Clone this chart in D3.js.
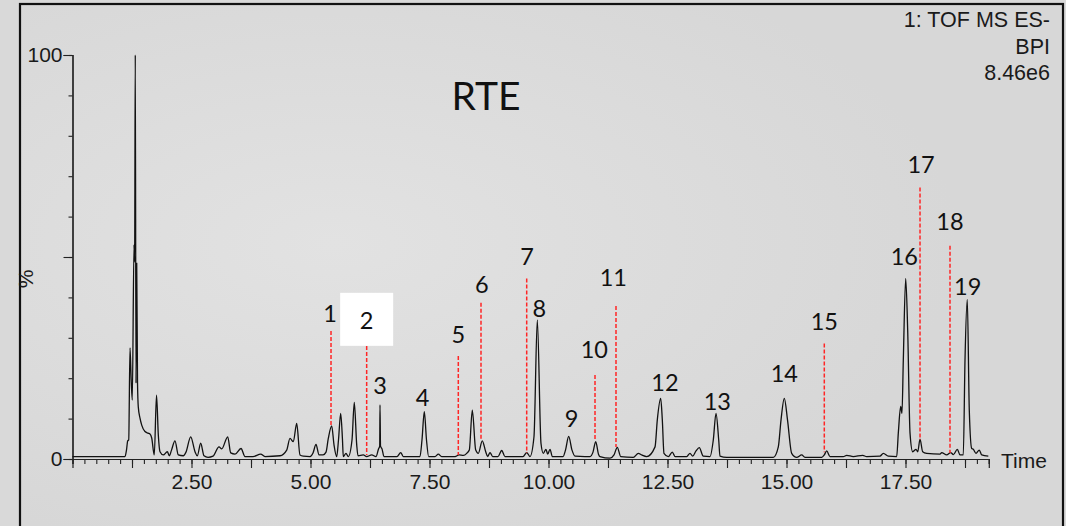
<!DOCTYPE html>
<html>
<head>
<meta charset="utf-8">
<script src="https://cdn.jsdelivr.net/npm/d3@7"></script>
<style>
  body { margin: 0; background: #d9d9d9; }
  svg { display: block; }
</style>
</head>
<body>
<script>
// chromatogram trace, [retention time (min), intensity (%)]
var trace = [
  [0, 0.6], [1.103, 0.6], [1.134, 2.2], [1.160, 4.5], [1.181, 4.7], [1.208, 27.5], [1.233, 19.6], [1.256, 14.6],
  [1.292, 53], [1.305, 48.8], [1.319, 100], [1.334, 18.8], [1.349, 48.5], [1.366, 18.8], [1.382, 12.9],
  [1.418, 10.1], [1.454, 8.4], [1.523, 6.8], [1.586, 6.4], [1.628, 6.2], [1.664, 5.2], [1.718, 1],
  [1.765, 15.8], [1.803, 5.9], [1.838, 1.8], [1.908, 1], [1.992, 1.8], [2.034, 0.8], [2.08, 2.2],
  [2.153, 4.5], [2.223, 1], [2.328, 0.8], [2.384, 1.7], [2.483, 5.5], [2.574, 1.8], [2.622, 0.8],
  [2.693, 3.9], [2.763, 0.8], [2.847, 0.4], [2.952, 0.7], [3.078, 3.0], [3.134, 2.5], [3.261, 5.5],
  [3.324, 1.5], [3.414, 1.2], [3.540, 2.6], [3.624, 0.6], [3.792, 0.6], [3.954, 1.2], [4.044, 0.6],
  [4.359, 0.8], [4.5, 2.2], [4.569, 5.1], [4.639, 4.3], [4.710, 8.8], [4.779, 1], [4.849, 0.7],
  [4.99, 0.6], [5.053, 1.5], [5.116, 3.6], [5.179, 1], [5.263, 1], [5.326, 1.7], [5.374, 5.1],
  [5.445, 8.2], [5.494, 3.5], [5.55, 0.6], [5.588, 4.7], [5.634, 11.3], [5.672, 4.7], [5.689, 0.6],
  [5.746, 1.4], [5.794, 0.6], [5.872, 4.7], [5.920, 14], [5.971, 3.5], [5.998, 0.8], [6.109, 1],
  [6.18, 0.6], [6.286, 1], [6.376, 0.6], [6.429, 2.5], [6.454, 3.2], [6.460, 13.4], [6.471, 3.2],
  [6.502, 2.5], [6.544, 0.6], [6.817, 0.6], [6.895, 1.6], [6.95, 0.6], [7.3, 0.6], [7.342, 4.7],
  [7.391, 11.7], [7.437, 4.7], [7.483, 0.6], [7.616, 0.6], [7.685, 1.2], [7.756, 0.6], [8.036, 0.6],
  [8.120, 1], [8.21, 0.9], [8.282, 1.4], [8.336, 2.2], [8.399, 12.1], [8.471, 2.2], [8.525, 1.4],
  [8.609, 4.5], [8.681, 1.8], [8.723, 0.6], [8.771, 1.6], [8.828, 0.6], [8.939, 0.6], [9.017, 2.1],
  [9.086, 0.6], [9.464, 0.6], [9.542, 1.6], [9.611, 0.6], [9.695, 5.5], [9.765, 34.4], [9.842, 3.9],
  [9.891, 1.4], [9.947, 2.4], [9.983, 1.2], [10.032, 2.4], [10.080, 0.6], [10.305, 0.6], [10.357, 2.2],
  [10.424, 5.6], [10.494, 2.2], [10.557, 0.7], [10.767, 0.6], [10.872, 0.6], [10.935, 1.7], [10.992, 4.3],
  [11.050, 1.2], [11.082, 0.6], [11.292, 0.2], [11.376, 1], [11.445, 2.9], [11.517, 0.6], [11.782, 0.4],
  [11.887, 1.4], [11.958, 1], [12.063, 0.6], [12.238, 3], [12.286, 9.7], [12.357, 15], [12.391, 9.7],
  [12.426, 1.4], [12.517, 0.6], [12.601, 1.7], [12.658, 0.6], [12.903, 0.6], [12.973, 1.4], [13.029, 0.7],
  [13.099, 2], [13.168, 2.8], [13.252, 0.7], [13.393, 0.6], [13.462, 4.7], [13.519, 11.3], [13.576, 4.7],
  [13.603, 0.7], [13.744, 0.4], [14.723, 0.4], [14.828, 3], [14.885, 9.7], [14.954, 15], [15.021, 9.7],
  [15.109, 1.4], [15.214, 0.4], [15.319, 1], [15.389, 0.4], [15.739, 0.4], [15.794, 1], [15.844, 2],
  [15.914, 0.6], [16.193, 0.6], [16.265, 0.9], [16.403, 0.6], [16.601, 0.9], [16.685, 0.6], [16.964, 0.7],
  [17.034, 1.4], [17.139, 0.7], [17.315, 0.6], [17.349, 6.4], [17.399, 13], [17.426, 11.3], [17.454, 24.5],
  [17.504, 44.7], [17.546, 31.9], [17.595, 6.4], [17.651, 1.8], [17.721, 2.4], [17.757, 1.8], [17.805, 4.9],
  [17.861, 1.8], [17.945, 1.4], [18.225, 1.2], [18.260, 1.6], [18.365, 1], [18.449, 1.6], [18.505, 1.1],
  [18.589, 2.4], [18.645, 1], [18.714, 1], [18.75, 24.5], [18.798, 39.5], [18.840, 12.1], [18.891, 2.6],
  [18.924, 2.4], [18.981, 1.4], [19.050, 2.2], [19.101, 1], [19.24, 0.7]
];

// numbered compounds: label position in data units
var peakIds  = [1, 2, 3, 4, 5, 6, 7, 8, 9, 10, 11, 12, 13, 14, 15, 16, 17, 18, 19];
var labelRt  = [5.41, 6.18, 6.46, 7.357, 8.105, 8.597, 9.548, 9.807, 10.487, 10.962, 11.361, 12.447, 13.546, 14.954, 15.794, 17.475, 17.826, 18.435, 18.807];
var labelPct = [35.9, 34.2, 18.1, 15.3, 30.9, 43.3, 50.2, 37.3, 10.1, 27, 45, 18.9, 14.2, 21.2, 34, 50.1, 72.8, 58.7, 42.6];

// red dashed markers
var markerIds  = [1, 2, 5, 6, 7, 10, 11, 15, 17, 18];
var markerRt   = [5.431, 6.18, 8.105, 8.582, 9.542, 10.977, 11.418, 15.794, 17.805, 18.435];
var markerTop  = [31.7, 28, 25.5, 38.7, 44.7, 20.8, 37.9, 28.6, 67.2, 52.8];
var markerBase = [7.9, 1, 1, 4.7, 1.5, 4.5, 3, 1.7, 4.7, 1.5];

var headerLines = ["1: TOF MS ES-", "BPI", "8.46e6"];
var timeMax = 19.25;

var W = 1066, H = 526;
var x0 = 72.5, x1 = x0 + 47.6 * timeMax;

var svg = d3.select("body").append("svg")
    .attr("width", W)
    .attr("height", H);

var x = d3.scaleLinear().domain([0, timeMax]).range([x0, x1]);
var y = d3.scaleLinear().domain([0, 100]).range([459, 55]);

// background + frame
svg.append("rect").attr("width", W).attr("height", H).attr("fill", "#d9d9d9");
var grad = svg.append("defs").append("radialGradient").attr("id", "glow")
    .attr("cx", "0.3").attr("cy", "0.45").attr("r", "0.6");
grad.append("stop").attr("offset", "0").attr("stop-color", "#e2e2e2");
grad.append("stop").attr("offset", "1").attr("stop-color", "#d7d7d7");
svg.append("rect").attr("x", 21).attr("y", 5).attr("width", 1041).attr("height", 530)
    .attr("fill", "url(#glow)");
svg.append("rect")
    .attr("x", 20).attr("y", 4).attr("width", 1043).attr("height", 540)
    .attr("fill", "none").attr("stroke", "#111").attr("stroke-width", 2.2);

var font = "'Liberation Sans', Arial, sans-serif";
var labelFont = "Lato, 'Open Sans', sans-serif";

// x axis: minor every 0.25, major every 1.25, labels every 2.5
var xMinor = d3.axisBottom(x)
    .tickValues(d3.range(0, timeMax + 0.001, 0.25))
    .tickSize(5).tickFormat("");
var xMajor = d3.axisBottom(x)
    .tickValues(d3.range(1.25, timeMax, 1.25))
    .tickSize(9).tickPadding(6)
    .tickFormat(function(d) {
        return Math.abs(d / 2.5 - Math.round(d / 2.5)) < 1e-6 ? d3.format(".2f")(d) : "";
    });

svg.append("g").attr("transform", "translate(0," + y(0) + ")").call(xMinor);
svg.append("g").attr("transform", "translate(0," + y(0) + ")").call(xMajor);

// y axis: minor every 10, major at 0/50/100
var yMinor = d3.axisLeft(y).tickValues(d3.range(0, 101, 10)).tickSize(4).tickFormat("");
var yMajor = d3.axisLeft(y).tickValues([0, 50, 100]).tickSize(9).tickPadding(1)
    .tickFormat(function(d) { return d === 50 ? "" : d; });

svg.append("g").attr("transform", "translate(" + x(0) + ",0)").call(yMinor);
svg.append("g").attr("transform", "translate(" + x(0) + ",0)").call(yMajor);

svg.selectAll(".domain").attr("stroke", "#222").attr("stroke-width", 1.2);
svg.selectAll(".tick line").attr("stroke", "#222").attr("stroke-width", 1.1);
svg.selectAll(".tick text")
    .attr("font-family", font).attr("font-size", 21).attr("fill", "#1a1a1a");

svg.append("text")
    .attr("x", 1001).attr("y", 468)
    .attr("font-family", font).attr("font-size", 21).attr("fill", "#1a1a1a")
    .text("Time");

svg.append("text")
    .attr("transform", "translate(33,279) rotate(-90)")
    .attr("text-anchor", "middle")
    .attr("font-family", font).attr("font-size", 21).attr("fill", "#1a1a1a")
    .text("%");

// header text, top right
svg.selectAll("text.header")
    .data(headerLines)
    .enter()
    .append("text")
    .attr("class", "header")
    .attr("x", 1050)
    .attr("y", function(d, i) { return 27 + i * 26.5; })
    .attr("text-anchor", "end")
    .attr("font-family", font).attr("font-size", 21.5).attr("fill", "#1a1a1a")
    .text(function(d) { return d; });

svg.append("text")
    .attr("x", 486).attr("y", 110)
    .attr("text-anchor", "middle")
    .attr("font-family", labelFont).attr("font-size", 39).attr("fill", "#111")
    .text("RTE");

// the trace
var line = d3.line()
    .x(function(d) { return x(d[0]); })
    .y(function(d) { return y(d[1]); })
    .curve(d3.curveMonotoneX);

svg.append("path")
    .datum(trace)
    .attr("d", line)
    .attr("fill", "none")
    .attr("stroke", "#111")
    .attr("stroke-width", 1.3)
    .attr("stroke-linejoin", "round");

// red dashed markers
svg.selectAll("line.marker")
    .data(markerIds)
    .enter()
    .append("line")
    .attr("class", "marker")
    .attr("x1", function(d, i) { return x(markerRt[i]); })
    .attr("x2", function(d, i) { return x(markerRt[i]); })
    .attr("y1", function(d, i) { return y(markerTop[i]); })
    .attr("y2", function(d, i) { return y(markerBase[i]); })
    .attr("stroke", "#ff2626")
    .attr("stroke-width", 1.5)
    .attr("stroke-dasharray", "4,2");

// white box behind label 2
var i2 = peakIds.indexOf(2);
svg.append("rect")
    .attr("x", x(labelRt[i2]) - 26.5)
    .attr("y", y(labelPct[i2]) - 28)
    .attr("width", 53).attr("height", 53)
    .attr("fill", "#fff");

svg.selectAll("text.peak")
    .data(peakIds)
    .enter()
    .append("text")
    .attr("class", "peak")
    .attr("x", function(d, i) { return x(labelRt[i]); })
    .attr("y", function(d, i) { return y(labelPct[i]) + 8.5; })
    .attr("text-anchor", "middle")
    .attr("font-family", labelFont).attr("font-size", 23.5).attr("fill", "#111")
    .text(function(d) { return d; });
</script>
</body>
</html>
